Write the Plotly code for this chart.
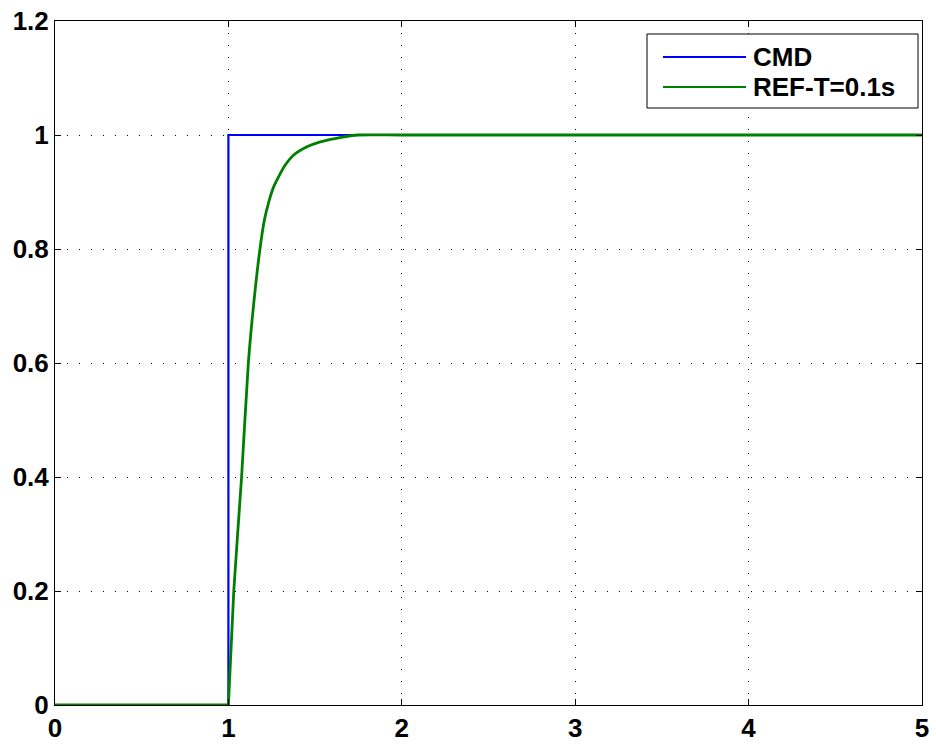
import plotly.graph_objects as go

# Data
t_cmd = [0.0, 1.0, 1.0, 5.0]
cmd = [0.0, 0.0, 1.0, 1.0]

t_ref = [0.0, 1.0, 1.031, 1.076, 1.115, 1.148, 1.182, 1.207, 1.235, 1.261, 1.29, 1.323,
         1.355, 1.39, 1.45, 1.53, 1.65, 1.75, 2.0, 5.0]
ref = [0.0, 0.0, 0.2, 0.4, 0.6, 0.71, 0.8, 0.85, 0.885, 0.909, 0.927, 0.945,
       0.958, 0.968, 0.979, 0.988, 0.996, 1.0, 1.0, 1.0]

x_ticks = [0, 1, 2, 3, 4, 5]
y_ticks = [0, 0.2, 0.4, 0.6, 0.8, 1.0, 1.2]
y_tick_text = ["0", "0.2", "0.4", "0.6", "0.8", "1", "1.2"]

legend_names = ["CMD", "REF-T=0.1s"]
colors = ["#0000ff", "#008000"]

FONT = "Liberation Sans, Arial, sans-serif"

fig = go.Figure()
fig.add_trace(go.Scatter(x=t_cmd, y=cmd, mode="lines", name=legend_names[0],
                         line=dict(color=colors[0], width=2.2), showlegend=False))
fig.add_trace(go.Scatter(x=t_ref[:2], y=ref[:2], mode="lines", showlegend=False,
                         line=dict(color=colors[1], width=2.8)))
fig.add_trace(go.Scatter(x=t_ref[1:], y=ref[1:], mode="lines", name=legend_names[1],
                         line=dict(color=colors[1], width=2.8, shape="spline", smoothing=0.6),
                         showlegend=False))

axis_common = dict(
    showline=True, linecolor="black", linewidth=1, mirror="ticks",
    ticks="inside", ticklen=6, tickcolor="black", tickwidth=1,
    showgrid=True, gridcolor="black", gridwidth=1, griddash="1px,11px",
    zeroline=False, automargin=False,
    tickfont=dict(family=FONT, size=26, color="black", weight="bold"),
)

fig.update_xaxes(range=[0, 5], tickvals=x_ticks, ticktext=[str(v) for v in x_ticks],
                 **axis_common)
fig.update_yaxes(range=[0, 1.2], tickvals=y_ticks, ticktext=y_tick_text,
                 **axis_common)

# Manual legend (MATLAB style) in paper coordinates
W, H = 936, 745
ml, mr, mt, mb = 55, 14, 21, 40
pw, ph = W - ml - mr, H - mt - mb


def px(x):
    return (x - ml) / pw


def py(y):
    return 1 - (y - mt) / ph


fig.add_shape(type="rect", xref="paper", yref="paper",
              x0=px(647), x1=px(918), y0=py(108), y1=py(34),
              line=dict(color="black", width=1), fillcolor="white", layer="above")
rows = [57, 87]
for i, yy in enumerate(rows):
    fig.add_shape(type="line", xref="paper", yref="paper",
                  x0=px(663), x1=px(746), y0=py(yy), y1=py(yy),
                  line=dict(color=colors[i], width=2.2), layer="above")
    fig.add_annotation(xref="paper", yref="paper", x=px(751), y=py(yy),
                       text=legend_names[i], showarrow=False,
                       xanchor="left", yanchor="middle",
                       font=dict(family=FONT, size=26, color="black", weight="bold"))

fig.update_layout(
    width=W, height=H,
    margin=dict(l=ml, r=mr, t=mt, b=mb),
    paper_bgcolor="white", plot_bgcolor="white",
    showlegend=False,
)

fig.write_html("out.html")
